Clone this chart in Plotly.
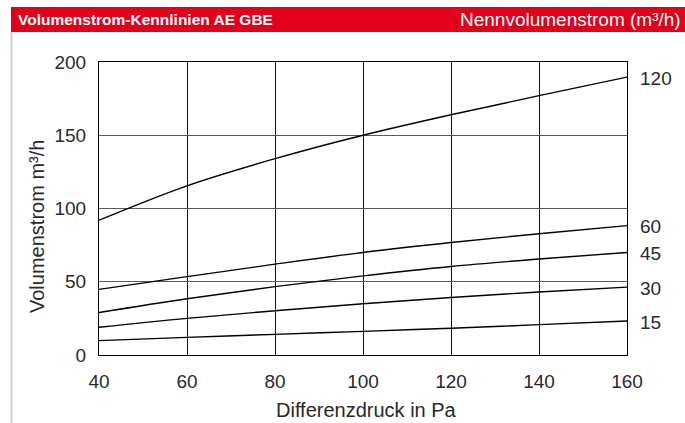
import plotly.graph_objects as go

pressure = [40, 60, 80, 100, 120, 140, 160]
flow_120 = [92, 115.5, 134, 150, 164, 177, 189.7]
flow_60 = [44.8, 53.5, 62, 70, 76.8, 82.8, 88.3]
flow_45 = [29, 38.4, 46.7, 54, 60.4, 65.5, 70]
flow_30 = [18.9, 25, 30.2, 35, 39.3, 43, 46.3]
flow_15 = [9.8, 12, 14.1, 16.1, 18.3, 20.7, 23.2]
series = [("120", flow_120), ("60", flow_60), ("45", flow_45), ("30", flow_30), ("15", flow_15)]

x_ticks = [40, 60, 80, 100, 120, 140, 160]
y_ticks = [0, 50, 100, 150, 200]

W, H = 685, 423
L, R, T, B = 99, 58, 62, 68
pw, ph = W - L - R, H - T - B

def px(x):
    return (x - L) / pw

def py(y):
    return (H - B - y) / ph

FONT = "Liberation Sans, Arial, sans-serif"
TXT = "#2a2a2a"

fig = go.Figure()
for name, vals in series:
    fig.add_trace(go.Scatter(x=pressure, y=vals, mode="lines", name=name,
                             line=dict(color="#000000", width=1.4, shape="spline", smoothing=1.0),
                             showlegend=False, hoverinfo="x+y"))

annotations = []
for name, vals in series:
    annotations.append(dict(x=160, y=vals[-1], xref="x", yref="y", text=name, showarrow=False,
                            xanchor="left", yanchor="middle", xshift=11, yshift=-1,
                            font=dict(family=FONT, size=19, color=TXT)))

# header texts
annotations.append(dict(x=px(16), y=py(19.5), xref="paper", yref="paper",
                        text="<b>Volumenstrom-Kennlinien AE GBE</b>", showarrow=False,
                        xanchor="left", yanchor="middle",
                        font=dict(family=FONT, size=15.5, color="white")))
annotations.append(dict(x=px(683), y=py(19.5), xref="paper", yref="paper",
                        text="Nennvolumenstrom (m³/h)", showarrow=False,
                        xanchor="right", yanchor="middle",
                        font=dict(family=FONT, size=19, color="white")))
# y axis title
annotations.append(dict(x=px(37), y=py(227), xref="paper", yref="paper",
                        text="Volumenstrom m³/h", showarrow=False, textangle=-90,
                        xanchor="center", yanchor="middle",
                        font=dict(family=FONT, size=20, color=TXT)))
# x axis title
annotations.append(dict(x=px(366), y=py(410), xref="paper", yref="paper",
                        text="Differenzdruck in Pa", showarrow=False,
                        xanchor="center", yanchor="middle",
                        font=dict(family=FONT, size=20, color=TXT)))

shapes = [
    dict(type="rect", xref="paper", yref="paper", x0=px(11), x1=px(W + 2), y0=py(32), y1=py(7),
         fillcolor="#e2001a", line=dict(width=0), layer="above"),
    dict(type="line", xref="paper", yref="paper", x0=px(11.5), x1=px(11.5), y0=py(32), y1=py(H + 2),
         line=dict(color="#cfcfcf", width=2)),
]

fig.update_layout(
    width=W, height=H,
    margin=dict(l=L, r=R, t=T, b=B),
    paper_bgcolor="white", plot_bgcolor="white",
    annotations=annotations, shapes=shapes,
    font=dict(family=FONT, size=19, color=TXT),
    xaxis=dict(range=[40, 160], tickvals=x_ticks, ticktext=[str(v) for v in x_ticks],
               showgrid=True, gridcolor="#111111", gridwidth=1,
               showline=True, linecolor="#000000", linewidth=1.2, mirror=True,
               ticks="", ticklabelstandoff=9, zeroline=False, fixedrange=True,
               tickfont=dict(family=FONT, size=19, color=TXT)),
    yaxis=dict(range=[0, 200], tickvals=y_ticks, ticktext=[str(v) for v in y_ticks],
               showgrid=True, gridcolor="#5a5a5a", gridwidth=1.2,
               showline=True, linecolor="#000000", linewidth=1.2, mirror=True,
               ticks="", ticklabelstandoff=8, zeroline=False, fixedrange=True,
               tickfont=dict(family=FONT, size=19, color=TXT)),
)

fig.write_html("out.html", config={"displayModeBar": False},
               post_script="document.body.style.margin='0';document.body.style.overflow='hidden';")
